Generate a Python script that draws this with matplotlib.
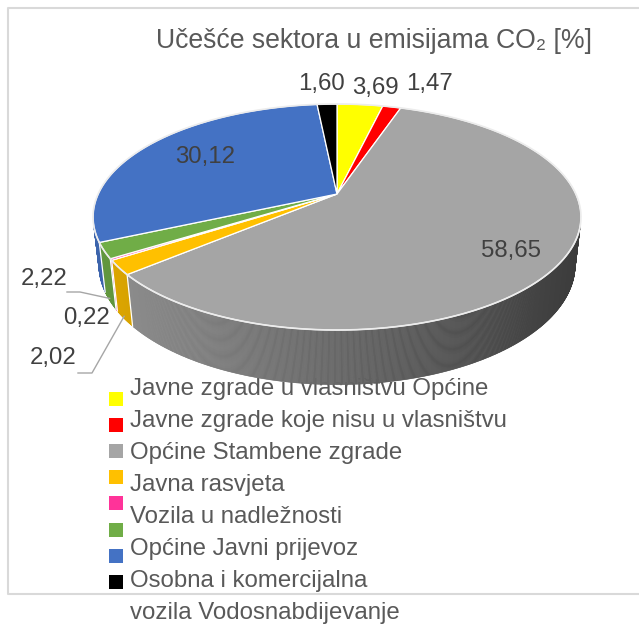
import numpy as np
import matplotlib.pyplot as plt
from matplotlib.collections import PolyCollection
from matplotlib.patches import Polygon, Rectangle

plt.rcParams['font.family'] = ['Liberation Sans', 'DejaVu Sans']

# sector shares of CO2 emissions, clockwise from 12 o'clock
values = [3.69, 1.47, 58.65, 2.02, 0.22, 2.22, 30.12, 1.60]
colors = ['#ffff00', '#ff0000', '#a5a5a5', '#ffc000', '#ff3399', '#70ad47', '#4472c4', '#000000']
legend_lines = ['Javne zgrade u vlasništvu Općine', 'Javne zgrade koje nisu u vlasništvu',
                'Općine Stambene zgrade', 'Javna rasvjeta', 'Vozila u nadležnosti',
                'Općine Javni prijevoz', 'Osobna i komercijalna', 'vozila Vodosnabdijevanje']
title = 'Učešće sektora u emisijama CO₂ [%]'

# camera for the tilted 3d disc (canvas in pixels)
tilt = np.arctan(0.5089)
dist = 4.379
focal = 1046
thick = 0.225
cx, cy = 337, 194
sn, cs = np.sin(tilt), np.cos(tilt)


def project(theta, z=0.0, r=1.0):
    X = r * np.sin(theta)
    Y = r * np.cos(theta)
    d = dist + Y * cs - z * sn
    up = Y * sn + z * cs
    return cx + focal * X / d, cy - focal * up / d


def shade(hex_color, factor):
    rgb = np.array([int(hex_color[i:i + 2], 16) for i in (1, 3, 5)]) / 255
    return tuple(np.clip(rgb * factor, 0, 1))


fig = plt.figure(figsize=(6.39, 6.24), dpi=100)
ax = fig.add_axes([0, 0, 1, 1])
ax.set_xlim(0, 639)
ax.set_ylim(624, 0)
ax.axis('off')

bounds = np.concatenate([[0], np.cumsum(values)]) / np.sum(values) * 2 * np.pi
visible = -1 / (dist * cs)

# side wall, drawn in thin strips with a left-to-right gradient
quads, qcols = [], []
for i, col in enumerate(colors):
    th = np.linspace(bounds[i], bounds[i + 1], max(int((bounds[i + 1] - bounds[i]) / 0.004), 2))
    for a, b in zip(th[:-1], th[1:]):
        if np.cos((a + b) / 2) > visible:
            continue
        x1, y1 = project(a)
        x2, y2 = project(b)
        x3, y3 = project(b, -thick)
        x4, y4 = project(a, -thick)
        t = ((x1 + x2) / 2 - (cx - 244)) / 488
        quads.append([(x1, y1), (x2, y2), (x3, y3), (x4, y4)])
        qcols.append(shade(col, 0.88 - 0.52 * t))
ax.add_collection(PolyCollection(quads, facecolors=qcols, edgecolors=qcols, linewidths=0.4, zorder=3))

for b in bounds:
    if np.cos(b) < visible:
        xa, ya = project(b)
        xb, yb = project(b, -thick)
        ax.plot([xa, xb], [ya, yb], color='white', lw=0.9, zorder=4)

# top face
for i, col in enumerate(colors):
    th = np.linspace(bounds[i], bounds[i + 1], 200)
    xs, ys = project(th)
    pts = [(cx, cy)] + list(zip(xs, ys))
    ax.add_patch(Polygon(pts, closed=True, facecolor=col, edgecolor='white', lw=0.9, zorder=5))

th = np.linspace(0, 2 * np.pi, 720)
xs, ys = project(th)
ax.plot(xs, ys, color='#ececec', lw=1.2, zorder=6)

# data labels
label_xy = [(375, 88), (429, 84), (511, 251), (53, 358), (87, 318), (44, 279), (205, 157), (322, 84)]
for v, (lx, ly) in zip(values, label_xy):
    ax.text(lx, ly, f'{v:.2f}'.replace('.', ','), ha='center', va='center',
            fontsize=17.3, color='#404040', zorder=8)

# leader lines for the narrow slices
for idx, elbow in [(5, [(67, 292), (80, 292)]), (3, [(78, 373), (92, 373)])]:
    mid = (bounds[idx] + bounds[idx + 1]) / 2
    ex, ey = project(mid, -thick * 0.95)
    pts = np.array(elbow + [(ex, ey)])
    ax.plot(pts[:, 0], pts[:, 1], color='#a6a6a6', lw=1.0, zorder=7)

ax.text(374, 41, title, ha='center', va='center', fontsize=19.2, color='#595959')

# legend
for i, col in enumerate(colors):
    ax.add_patch(Rectangle((109, 391.5 + 26.2 * i), 14, 14, facecolor=col, edgecolor='none', zorder=2))
for i, line in enumerate(legend_lines):
    ax.text(130, 389 + 32 * i, line, ha='left', va='center', fontsize=17.3, color='#595959', zorder=1)

# chart frame
ax.plot([639, 8, 8, 639], [8, 8, 594, 594], color='#d9d9d9', lw=1.5, zorder=0)

fig.savefig('out.png', dpi=100)
